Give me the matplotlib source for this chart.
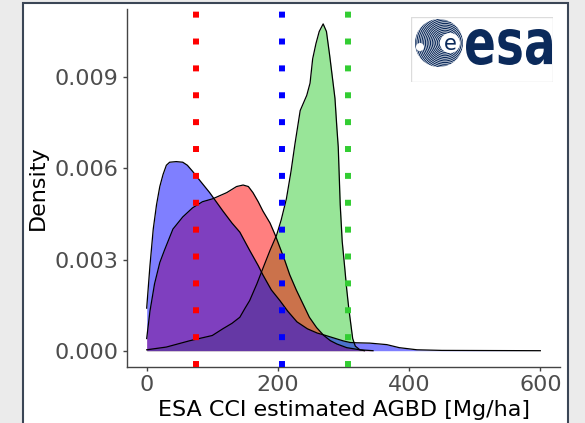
import numpy as np
import matplotlib
matplotlib.use("Agg")
import matplotlib.pyplot as plt
from matplotlib.patches import Rectangle, Circle, PathPatch
from matplotlib.textpath import TextPath
from matplotlib.font_manager import FontProperties
from matplotlib.transforms import Affine2D

# density curves (AGBD in Mg/ha, density)
green_x = [0, 30, 66, 100, 116, 130, 142, 150, 157, 168, 177, 188, 198, 205, 213, 220, 226,
           234, 238, 244, 249, 253, 258, 263, 269, 274, 279, 283, 287, 290, 292, 295, 298,
           302, 305, 308, 311, 314, 318, 325, 332]
green_y = [0.00003, 0.00012, 0.00033, 0.0005, 0.00072, 0.0009, 0.0011, 0.0014, 0.00165,
           0.0022, 0.0027, 0.0033, 0.0038, 0.0043, 0.0050, 0.0059, 0.0068, 0.0079, 0.0081,
           0.0084, 0.0088, 0.0096, 0.0101, 0.0105, 0.01075, 0.0105, 0.0097, 0.0090, 0.0083,
           0.0073, 0.0067, 0.0048, 0.0036, 0.0027, 0.0020, 0.0014, 0.0009, 0.0004, 0.00015,
           0.00003, 0.0]

red_x = [0, 5, 12, 20, 27, 40, 55, 70, 85, 101, 122, 137, 147, 155, 162, 170, 177, 188, 196,
         203, 210, 218, 228, 238, 248, 259, 270, 280, 290, 305, 325, 345]
red_y = [0.0004, 0.0013, 0.0022, 0.0029, 0.0033, 0.0040, 0.0044, 0.0047, 0.0049, 0.0050,
         0.0052, 0.0054, 0.00545, 0.0054, 0.0052, 0.0049, 0.0046, 0.0042, 0.0038, 0.0034,
         0.0030, 0.0025, 0.0020, 0.00155, 0.0011, 0.00076, 0.0005, 0.00033, 0.00022, 0.0001,
         0.00003, 0.0]

blue_x = [0, 5, 10, 15, 20, 25, 30, 35, 45, 55, 62, 70, 81, 96, 116, 130, 142, 157, 170, 177,
          190, 203, 215, 229, 245, 260, 270, 285, 300, 310, 320, 340, 366, 385, 412, 450, 600]
blue_y = [0.0014, 0.0028, 0.0040, 0.0048, 0.0054, 0.0058, 0.0061, 0.0062, 0.00622, 0.0062,
          0.0061, 0.0059, 0.0056, 0.0052, 0.0046, 0.0042, 0.0039, 0.0033, 0.0028, 0.0025,
          0.0020, 0.00165, 0.0013, 0.00095, 0.00072, 0.00058, 0.00052, 0.00042, 0.00032,
          0.00027, 0.00026, 0.00025, 0.0002, 0.0001, 0.00003, 0.00001, 0.0]

# mean markers (dotted vertical lines)
vline_x = [75, 205.5, 307.5]
vline_colors = ["#ff0000", "#0000ff", "#32cd32"]

x_ticks = [0, 200, 400, 600]
y_ticks = [0.0, 0.003, 0.006, 0.009]
y_ticklabels = ["0.000", "0.003", "0.006", "0.009"]

W, H = 585, 423
fig = plt.figure(figsize=(W / 100, H / 100), dpi=100, facecolor="#ebebeb")

# white panel with dark border
panel = Rectangle((23 / W, -0.05), (568 - 23) / W, (423 - 3) / H + 0.05,
                  transform=fig.transFigure, facecolor="white", edgecolor="#3b4656",
                  linewidth=1.5, zorder=-10)
fig.patches.append(panel)

ax = fig.add_axes([127 / W, 56 / H, (560 - 127) / W, (414 - 56) / H])
ax.set_facecolor("none")

series = [(green_x, green_y, "#32cd32"), (red_x, red_y, "#ff0000"), (blue_x, blue_y, "#0000ff")]
for xs, ys, col in series:
    ax.fill_between(xs, 0, ys, color=col, alpha=0.5, linewidth=0)
    ax.plot(xs, ys, color="black", linewidth=0.9)

for xv, col in zip(vline_x, vline_colors):
    ax.axvline(xv, color=col, linewidth=4.3, linestyle=(0, (1, 3.5)),
               dash_capstyle="butt", zorder=5)

ax.set_xlim(-30, 630)
ax.set_ylim(-0.000536, 0.01124)
ax.set_xticks(x_ticks)
ax.set_yticks(y_ticks)
ax.set_yticklabels(y_ticklabels)
for s in ["top", "right"]:
    ax.spines[s].set_visible(False)
for s in ["left", "bottom"]:
    ax.spines[s].set_color("#444444")
    ax.spines[s].set_linewidth(1.0)
ax.tick_params(length=3, width=1, color="#444444", pad=3, labelsize=16, labelcolor="#4d4d4d")
ax.set_xlabel("ESA CCI estimated AGBD [Mg/ha]", fontsize=16, color="black", labelpad=3)
ax.set_ylabel("Density", fontsize=16, color="black", labelpad=5)

# ESA logo box
lax = fig.add_axes([411 / W, 1 - 82 / H, 142 / W, 65 / H])
lax.set_xlim(0, 142)
lax.set_ylim(0, 65)
lax.axis("off")
lax.add_patch(Rectangle((0, 0), 142, 65, facecolor="white", edgecolor="#dcdcdc", linewidth=1))
navy = "#0b2a5b"
clip = Circle((28, 39), 24, transform=lax.transData)
for r in np.arange(6, 40, 1.7):
    c = Circle((34, 39), r, fill=False, edgecolor=navy, linewidth=0.8)
    lax.add_patch(c)
    c.set_clip_path(clip)
lax.add_patch(Circle((9, 35), 4, facecolor="white", edgecolor="none"))
lax.add_patch(Circle((39, 39), 10, facecolor="white", edgecolor="none"))
lax.text(39, 38.5, "e", color=navy, fontsize=15, ha="center", va="center")

tp = TextPath((0, 0), "esa", size=1, prop=FontProperties(family="DejaVu Sans", weight="bold"))
bb = tp.get_extents()
tr = (Affine2D().translate(-bb.x0, -bb.y0)
      .scale(86 / bb.width, 36 / bb.height).translate(55, 17))
lax.add_patch(PathPatch(tr.transform_path(tp), facecolor=navy, edgecolor="none"))

fig.savefig("out.png", dpi=100, facecolor=fig.get_facecolor())
